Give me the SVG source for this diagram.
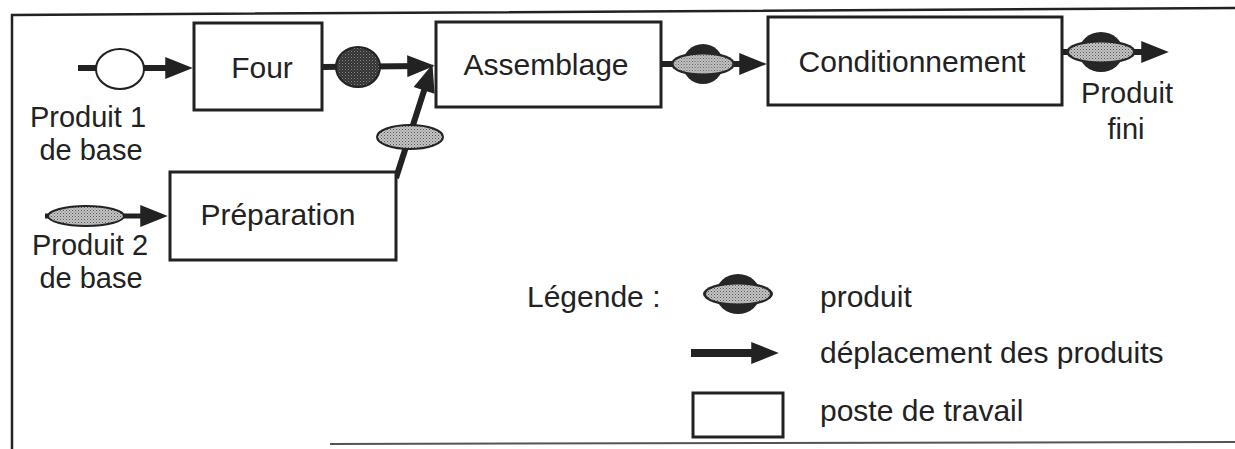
<svg xmlns="http://www.w3.org/2000/svg" width="1235" height="449" viewBox="0 0 1235 449">
  <style>
    .box { fill: #ffffff; stroke: #222222; stroke-width: 3; }
    .lbl { font-family: "Liberation Sans", Arial, sans-serif; font-size: 30px; fill: #222222; }
    .io { font-size: 29px; }
    .mid { text-anchor: middle; }
    .flow { fill: none; stroke: #222222; stroke-width: 6; marker-end: url(#head); }
    .frame { fill: none; stroke: #222222; stroke-width: 2.5; }
    .outline { stroke: #222222; stroke-width: 2; }
  </style>
  <defs>
    <pattern id="stippleLight" width="3" height="3" patternUnits="userSpaceOnUse">
      <rect width="3" height="3" fill="#c4c4c4"/>
      <rect x="0" y="0" width="1" height="1" fill="#555555"/>
      <rect x="1.5" y="1.5" width="1" height="1" fill="#777777"/>
    </pattern>
    <pattern id="stippleDark" width="3" height="3" patternUnits="userSpaceOnUse">
      <rect width="3" height="3" fill="#333333"/>
      <rect x="0" y="0" width="1" height="1" fill="#888888"/>
      <rect x="1.5" y="1.5" width="1" height="1" fill="#666666"/>
    </pattern>
    <marker id="head" viewBox="0 0 10 8" refX="5" refY="4" markerWidth="30" markerHeight="22" markerUnits="userSpaceOnUse" orient="auto">
      <path d="M0,0 L10,4 L0,8 Z" fill="#222222"/>
    </marker>
    <g id="product">
      <ellipse cx="0" cy="0" rx="22" ry="20" fill="#262626"/>
      <ellipse cx="0" cy="0" rx="35" ry="12" fill="#262626"/>
      <ellipse cx="0" cy="0" rx="32" ry="9.5" fill="url(#stippleLight)"/>
    </g>
  </defs>

  <!-- frame -->
  <g id="frame">
    <path class="frame" d="M12,449 L12,15 L1235,8"/>
    <path d="M330,444 L1235,442" fill="none" stroke="#555555" stroke-width="2"/>
  </g>

  <!-- connectors -->
  <g id="connectors">
    <line class="flow" x1="78" y1="68" x2="179" y2="68"/>
    <line class="flow" x1="322" y1="67" x2="421" y2="66"/>
    <line class="flow" x1="396" y1="178" x2="428.3" y2="77.3"/>
    <line class="flow" x1="661" y1="64" x2="753" y2="64"/>
    <line class="flow" x1="1062" y1="52" x2="1155" y2="52"/>
    <line class="flow" x1="45" y1="216" x2="154" y2="216" style="stroke-width:5"/>
  </g>

  <!-- products on the flows -->
  <g id="product-base1">
    <ellipse class="outline" cx="120" cy="69" rx="24" ry="20" fill="#ffffff"/>
  </g>
  <g id="product-four">
    <ellipse class="outline" cx="358" cy="67" rx="22" ry="20" fill="url(#stippleDark)"/>
  </g>
  <g id="product-prep">
    <ellipse class="outline" cx="410" cy="137" rx="33" ry="12" fill="url(#stippleLight)"/>
  </g>
  <g id="product-base2">
    <ellipse class="outline" cx="86" cy="216" rx="38" ry="10" fill="url(#stippleLight)"/>
  </g>
  <g id="product-assemble">
    <use href="#product" transform="translate(703,64) scale(0.92,1)"/>
  </g>
  <g id="product-final">
    <use href="#product" transform="translate(1101,52)"/>
  </g>

  <!-- stations -->
  <g id="four">
    <rect class="box" x="194" y="23" width="128" height="87"/>
    <text class="lbl mid" x="262" y="78">Four</text>
  </g>
  <g id="assemblage">
    <rect class="box" x="436" y="22" width="225" height="85"/>
    <text class="lbl mid" x="546" y="75">Assemblage</text>
  </g>
  <g id="conditionnement">
    <rect class="box" x="768" y="17" width="294" height="88"/>
    <text class="lbl mid" x="912" y="72">Conditionnement</text>
  </g>
  <g id="preparation">
    <rect class="box" x="170" y="172" width="226" height="88"/>
    <text class="lbl mid" x="278" y="225">Préparation</text>
  </g>

  <!-- io labels -->
  <g id="label-base1">
    <text class="lbl io mid" x="88" y="127">Produit 1</text>
    <text class="lbl io mid" x="91" y="160">de base</text>
  </g>
  <g id="label-base2">
    <text class="lbl io mid" x="90" y="255">Produit 2</text>
    <text class="lbl io mid" x="91" y="288">de base</text>
  </g>
  <g id="label-final">
    <text class="lbl io mid" x="1127" y="103">Produit</text>
    <text class="lbl io mid" x="1126" y="139">fini</text>
  </g>

  <!-- legend -->
  <g id="legend">
    <text class="lbl" x="527" y="307">Légende :</text>
    <use href="#product" transform="translate(738,294)"/>
    <text class="lbl" x="820" y="307">produit</text>
    <line class="flow" x1="691" y1="353" x2="765" y2="353" style="stroke-width:8"/>
    <text class="lbl" x="820" y="363">déplacement des produits</text>
    <rect class="box" x="693" y="393" width="90" height="44"/>
    <text class="lbl" x="820" y="421">poste de travail</text>
  </g>
</svg>
